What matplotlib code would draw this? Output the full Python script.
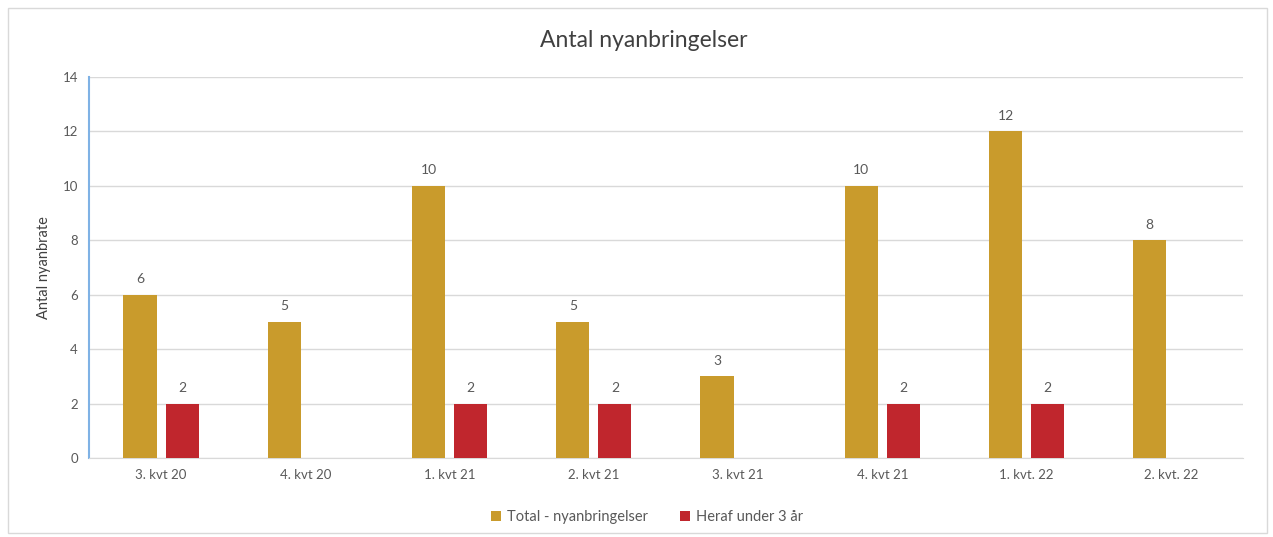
import numpy as np
import matplotlib.pyplot as plt
from matplotlib.patches import Rectangle

plt.rcParams['font.family'] = ['Lato', 'DejaVu Sans']

kvartaler = ['3. kvt 20', '4. kvt 20', '1. kvt 21', '2. kvt 21',
             '3. kvt 21', '4. kvt 21', '1. kvt. 22', '2. kvt. 22']
total = [6, 5, 10, 5, 3, 10, 12, 8]
under3 = [2, None, 2, 2, None, 2, 2, None]

gold = '#C99B2C'
red = '#C0262D'
txt = '#595959'

fig = plt.figure(figsize=(12.73, 5.37), dpi=100)
ax = fig.add_axes([0.0699, 0.1471, 0.9065, 0.7095])

# thin frame round the whole chart
fig.patches.append(Rectangle((0.006, 0.008), 0.989, 0.978, transform=fig.transFigure,
                             fill=False, edgecolor='#D9D9D9', linewidth=1))

x = np.arange(len(kvartaler))
w = 0.23
off = 0.146

x_red = [xi + off for xi, v in zip(x, under3) if v is not None]
v_red = [v for v in under3 if v is not None]

b1 = ax.bar(x - off, total, w, color=gold, label='Total - nyanbringelser', zorder=3)
b2 = ax.bar(x_red, v_red, w, color=red, label='Heraf under 3 år', zorder=3)
ax.bar_label(b1, padding=7, fontsize=10, color=txt)
ax.bar_label(b2, padding=7, fontsize=10, color=txt)

ax.set_xlim(-0.5, len(kvartaler) - 0.5)
ax.set_ylim(0, 14)
ax.set_yticks(range(0, 15, 2))
ax.set_xticks(x)
ax.set_xticklabels(kvartaler)
ax.tick_params(length=0, labelsize=9.5, labelcolor=txt, pad=8)
ax.grid(axis='y', color='#D9D9D9', linewidth=1, zorder=0)

for s in ['top', 'right']:
    ax.spines[s].set_visible(False)
ax.spines['bottom'].set_color('#D9D9D9')
ax.spines['left'].set_color('#7FB2E5')
ax.spines['left'].set_linewidth(1.5)

ax.set_ylabel('Antal nyanbrate', fontsize=10.5, color='#404040', labelpad=8)
fig.suptitle('Antal nyanbringelser', x=0.506, y=0.945, fontsize=16.5, color='#404040')

fig.legend(loc='center', bbox_to_anchor=(0.508, 0.037), ncol=2, frameon=False,
           fontsize=10.5, labelcolor=txt, handlelength=0.7, handleheight=0.7,
           handletextpad=0.4, columnspacing=2.2)

fig.savefig('out.png')
